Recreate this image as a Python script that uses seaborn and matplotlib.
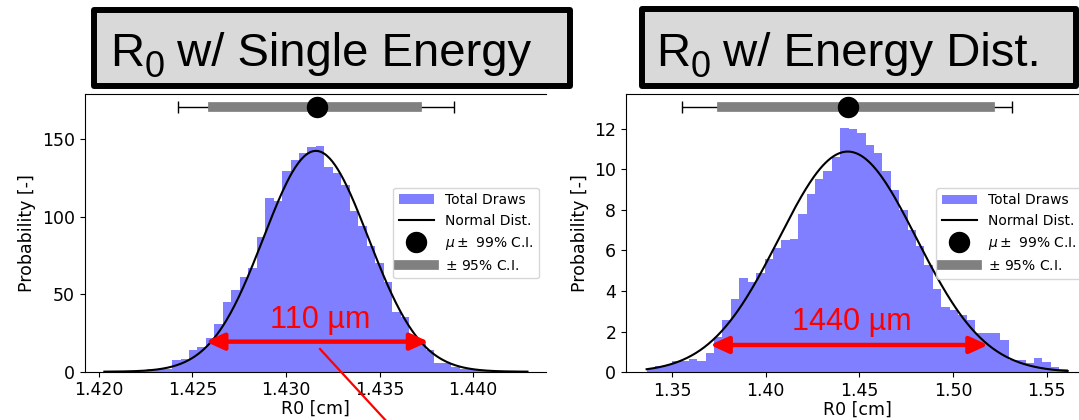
import numpy as np
import pandas as pd
import matplotlib
matplotlib.use("Agg")
import matplotlib.pyplot as plt
import seaborn as sns
from matplotlib.patches import Patch, Rectangle
from matplotlib.lines import Line2D

# ---------------- data ----------------
# Left panel: R0 with single energy
left_hist_range = (1.4203, 1.4429)
left_density = [0.2, 0.2, 0.3, 0.5, 1.0, 1.5, 1.7, 2.0, 7.5, 8.5,
                14.0, 16.0, 22.0, 31.0, 44.7, 53.0, 61.0, 67.0, 87.0, 112.0,
                110.0, 129.5, 136.6, 141.0, 144.8, 145.8, 132.0, 128.0, 120.5, 104.0,
                94.0, 81.0, 70.0, 58.0, 38.7, 35.0, 22.6, 19.0, 14.0, 5.8,
                5.5, 3.0, 1.5, 1.5, 1.2, 0.8, 0.5, 0.3, 0.2, 0.2]
left_mu, left_sigma = 1.4316, 0.0028
left_ci99 = (1.42425, 1.43897)
left_ci95 = (1.42608, 1.43701)
left_mean_marker = 1.43165
left_marker_level = 170.6
left_span = (1.42571, 1.43762, 19.4)
left_span_text = ("110 µm", 1.43182, 28.0)
left_xticks = [1.420, 1.425, 1.430, 1.435, 1.440]
left_yticks = [0, 50, 100, 150]
left_xlim = (1.41924, 1.44389)
left_ylim = (0, 179.0)

# Right panel: R0 with energy distribution
right_hist_range = (1.3365, 1.5611)
right_density = [0.15, 0.3, 0.35, 0.55, 0.55, 0.65, 0.57, 0.93, 1.75, 2.6,
                 3.6, 4.66, 4.46, 4.88, 5.6, 6.1, 6.5, 6.57, 7.78, 8.8,
                 9.5, 9.9, 10.6, 12.05, 12.0, 11.8, 11.2, 10.8, 9.9, 9.0,
                 8.0, 7.0, 6.2, 5.3, 4.1, 3.2, 3.07, 2.8, 2.57, 1.95,
                 1.92, 1.92, 1.6, 0.6, 0.6, 0.45, 0.69, 0.5, 0.28, 0.15]
right_mu, right_sigma = 1.4438, 0.0367
right_ci99 = (1.35534, 1.53138)
right_ci95 = (1.37689, 1.51990)
right_mean_marker = 1.44376
right_marker_level = 13.05
right_span = (1.37033, 1.51867, 1.345)
right_span_text = ("1440 µm", 1.44584, 2.08)
right_xticks = [1.35, 1.40, 1.45, 1.50, 1.55]
right_yticks = [0, 2, 4, 6, 8, 10, 12]
right_xlim = (1.3255, 1.5725)
right_ylim = (0, 13.69)

title_parts = [("R", "0", " w/ Single Energy"), ("R", "0", " w/ Energy Dist.")]
legend_labels = ["Total Draws", "Normal Dist.", r"$\mu\pm$ 99% C.I.", r"$\pm$ 95% C.I."]
xlabel = "R0 [cm]"
ylabel = "Probability [-]"

# ---------------- figure ----------------
W, H = 1079, 420
fig = plt.figure(figsize=(W / 100, H / 100), dpi=100)

ax1 = fig.add_axes([84.5 / W, (H - 371.7) / H, (546 - 84.5) / W, (371.7 - 94.3) / H])
ax2 = fig.add_axes([626 / W, (H - 372.3) / H, (1089 - 626) / W, (372.3 - 94.3) / H])

panels = [
    (ax1, left_hist_range, left_density, left_mu, left_sigma, left_ci99, left_ci95,
     left_mean_marker, left_marker_level, left_span, left_span_text,
     left_xticks, left_yticks, left_xlim, left_ylim),
    (ax2, right_hist_range, right_density, right_mu, right_sigma, right_ci99, right_ci95,
     right_mean_marker, right_marker_level, right_span, right_span_text,
     right_xticks, right_yticks, right_xlim, right_ylim),
]

for (ax, hrange, dens, mu, sigma, ci99, ci95, mmark, mlevel, span, stext,
     xticks, yticks, xlim, ylim) in panels:
    edges = np.linspace(hrange[0], hrange[1], len(dens) + 1)
    df = pd.DataFrame({"center": 0.5 * (edges[:-1] + edges[1:]), "density": dens})
    sns.histplot(data=df, x="center", weights="density", bins=list(edges), stat="count",
                 color="blue", alpha=0.5, linewidth=0, ax=ax)

    xs = np.linspace(hrange[0], hrange[1], 300)
    pdf = np.exp(-0.5 * ((xs - mu) / sigma) ** 2) / (sigma * np.sqrt(2 * np.pi))
    sns.lineplot(x=xs, y=pdf, color="black", linewidth=1.5, ax=ax)

    ax.errorbar([mmark], [mlevel], xerr=[[mmark - ci99[0]], [ci99[1] - mmark]],
                fmt="none", ecolor="black", elinewidth=1.0, capsize=4.5, capthick=1.0)
    ax.plot([ci95[0], ci95[1]], [mlevel, mlevel], color="gray", linewidth=7,
            solid_capstyle="projecting")
    ax.plot([mmark], [mlevel], "o", color="black", markersize=14.4)

    ax.annotate("", xy=(span[1], span[2]), xytext=(span[0], span[2]),
                arrowprops=dict(arrowstyle="<|-|>,head_length=1.1,head_width=0.5",
                                color="red", lw=3.2, shrinkA=0, shrinkB=0,
                                mutation_scale=10))
    ax.text(stext[1], stext[2], stext[0], color="red", fontsize=22,
            family="Liberation Sans", ha="center", va="baseline")

    ax.set_xlim(*xlim)
    ax.set_ylim(*ylim)
    ax.set_xticks(xticks)
    ax.set_yticks(yticks)
    ax.tick_params(labelsize=12.5)
    ax.set_xlabel(xlabel, fontsize=12.5, labelpad=0.5)
    ax.set_ylabel(ylabel, fontsize=12.5)
    ax.spines["right"].set_visible(False)

    handles = [Patch(facecolor="blue", alpha=0.5),
               Line2D([], [], color="black", linewidth=1.5),
               Line2D([], [], marker="o", linestyle="none", color="black", markersize=14.4),
               Line2D([], [], color="gray", linewidth=7, solid_capstyle="projecting")]
    ax.legend(handles, legend_labels, loc="center right", fontsize=10, handlelength=2.5)

# title boxes
renderer = fig.canvas.get_renderer()
for (x0, y0, x1, y1), parts, tx in [((93.5, 9.7, 570, 86.3), title_parts[0], 110),
                                    ((641.5, 9.0, 1076, 85.5), title_parts[1], 656)]:
    fig.patches.append(Rectangle((x0 / W, 1 - y1 / H), (x1 - x0) / W, (y1 - y0) / H,
                                 transform=fig.transFigure, facecolor="#d9d9d9",
                                 edgecolor="black", linewidth=4.3, joinstyle="round"))
    base = 1 - 65.7 / H
    t_main = fig.text(tx / W, base, parts[0], fontsize=34, family="Liberation Sans",
                      ha="left", va="baseline")
    bb = t_main.get_window_extent(renderer)
    t_sub = fig.text(bb.x1 / W, base - 11 / H, parts[1], fontsize=26,
                     family="Liberation Sans", ha="left", va="baseline")
    bb2 = t_sub.get_window_extent(renderer)
    fig.text(bb2.x1 / W, base, parts[2], fontsize=34, family="Liberation Sans",
             ha="left", va="baseline")

# red pointer line
fig.lines.append(Line2D([320 / W, 389 / W], [1 - 349 / H, 1 - 424 / H],
                        transform=fig.transFigure, color="red", linewidth=1.6))

fig.savefig("out.png", dpi=100)
